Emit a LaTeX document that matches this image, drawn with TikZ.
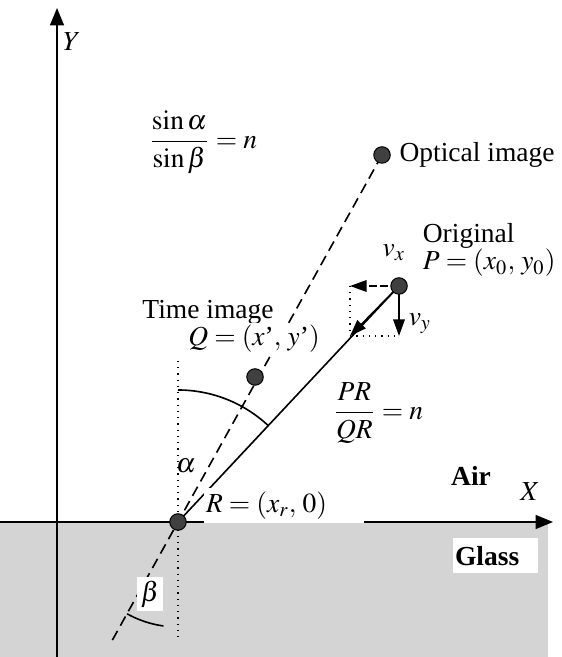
\documentclass[tikz,border=0pt]{standalone}
\usepackage{mathptmx}
\usepackage{fontspec}
\setmainfont{Liberation Serif}
\usetikzlibrary{arrows.meta, positioning, calc, backgrounds}

\begin{document}
\begin{tikzpicture}[x=0.4pt, y=0.4pt, font=\fontsize{11}{13}\selectfont,
    >={Triangle[length=6.6pt, width=4.6pt]},
    dot/.style={circle, draw, fill=black!75, minimum size=6.6pt, inner sep=0pt},
    mask/.style={fill=white, inner sep=1pt},
    ray/.style={line width=0.65pt},
    guide/.style={dotted, line width=0.5pt},
    axis/.style={line width=0.65pt, -{Triangle[length=7pt, width=5.6pt]}}]

\useasboundingbox (0,0) rectangle (561,657);

% ── points ───────────────────────────────────────────────────────
\node[dot] (R) at (178,135) {};
\node[dot] (Q) at (255,280) {};
\node[dot] (P) at (399,371) {};
\node[dot] (O) at (382,502) {};
\coordinate (C) at (350,321);
\coordinate (low) at ($(O.center)!1.33!(R.center)$);

\begin{scope}[on background layer]
    % Glass
    \fill[black!17] (0,0) rectangle (548,135);
    % axes
    \draw[axis] (0,135) -- (553,135);
    \draw[axis] (57,0) -- (57,649);

    % rays
    \draw[ray, dash pattern=on 4.2pt off 2.4pt] (O.center) -- (low);
    \draw[ray] (R.center) -- (P.center);
    \draw[guide] ($(R.center)+(0,161)$) -- ($(R.center)+(0,-120)$);

    % angles
    \draw[ray] ($(R.center)+(90:132)$) arc[start angle=90, end angle=47, radius=132];
    \draw[ray] ($(R.center)+(241:105)$) arc[start angle=241, end angle=262, radius=105];

    % velocity
    \draw[ray, ->] (P.center) -- (C);
    \draw[ray, dash pattern=on 3pt off 1.5pt, ->] (P.center) -- (C |- P);
    \draw[ray, ->] (P.center) -- (C -| P);
    \draw[guide] (C |- P) -- (C) -- (C -| P);
\end{scope}

% ── labels ───────────────────────────────────────────────────────
\node (Ylab) at (72,615) {$Y$};
\node (Xlab) at (530,165) {$X$};
\node (snell) at (203,515) {$\displaystyle\frac{\sin\alpha}{\sin\beta}=n$};
\node[right=0pt of O] (Olab) {Optical image};
\node[anchor=west] (orig) at (414,421) {Original};
\node[anchor=west] (Plab) at (414,394) {$P=(x_0,\,y_0)$};
\node (vx) at (394,404) {$v_x$};
\node (vy) at (420,333) {$v_y$};
\node (time) at (208,345) {Time image};
\node[mask] (Qlab) at (254,318) {$Q=(x$'$,\,y$'$)$};
\node (ratio) at (378,244) {$\displaystyle\frac{PR}{QR}=n$};
\node (alab) at (186,191) {$\alpha$};
\node[font=\fontsize{11}{13}\selectfont\bfseries] (air) at (471,181) {Air};
\node[mask, anchor=south west, minimum height=14pt, text width=62pt, inner xsep=1pt] (Rlab) at (203,133) {$R=(x_r,\,0)$};
\node[mask, anchor=north west, minimum height=14pt, text width=32pt, inner xsep=1pt, font=\fontsize{11}{13}\selectfont\bfseries] (glass) at (452,119) {Glass};
\node[mask, inner sep=1.5pt] (blab) at (150,63) {$\beta$};

\end{tikzpicture}
\end{document}
